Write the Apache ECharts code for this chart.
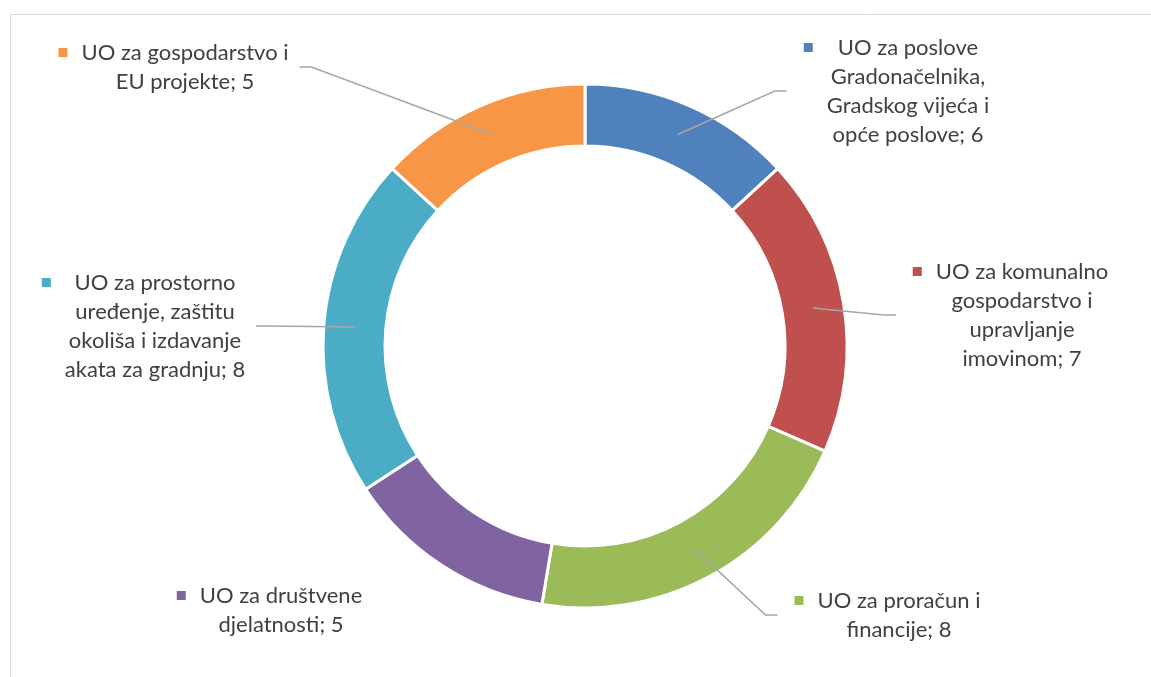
<!DOCTYPE html>
<html>
<head>
<meta charset="utf-8">
<script src="https://cdn.jsdelivr.net/npm/echarts@6/dist/echarts.min.js"></script>
<style>
  html, body { margin: 0; padding: 0; background: #ffffff; }
  #chart { width: 1151px; height: 677px; }
</style>
</head>
<body>
<div id="chart"></div>
<script>
// ---- data ----
const categories = [
  'UO za poslove\nGradonačelnika,\nGradskog vijeća i\nopće poslove',
  'UO za komunalno\ngospodarstvo i\nupravljanje\nimovinom',
  'UO za proračun i\nfinancije',
  'UO za društvene\ndjelatnosti',
  'UO za prostorno\nuređenje, zaštitu\nokoliša i izdavanje\nakata za gradnju',
  'UO za gospodarstvo i\nEU projekte'
];
// slice sizes as measured from the arc angles in the picture
const sliceValues = [5, 7, 8, 5, 8, 5];
// values printed in the data labels of the picture (first label reads 6)
const labelValues = [6, 7, 8, 5, 8, 5];

// ---- style / layout ----
const colors = ['#4F81BD', '#C0504D', '#9BBB59', '#8064A2', '#4BACC6', '#F79646'];
const CX = 585, CY = 346, R_IN = 200, R_OUT = 262;
const labelCenters = [[908, 91], [1022, 315], [899, 615], [281, 610], [155, 326], [185, 67]];
const showLeader = [true, true, true, false, true, true];
const FONT = 'Lato';
const FS = 22;
const LH = 29;
const SLOT = 23;

const rich = {
  t: { fontFamily: FONT, fontSize: FS, color: '#404040', align: 'center', lineHeight: LH },
  g: { width: 14, align: 'left', lineHeight: LH },
  e: { width: SLOT, align: 'left', lineHeight: LH },
  r: { width: SLOT, align: 'right', lineHeight: LH }
};
colors.forEach(function (c, i) {
  rich['sq' + i] = { width: 9, height: 9, backgroundColor: c, align: 'left', lineHeight: LH };
});

const pieData = categories.map(function (name, i) {
  return { name: name, value: sliceValues[i], labelLine: { show: showLeader[i] } };
});

const chart = echarts.init(document.getElementById('chart'), null, { renderer: 'canvas' });

chart.setOption({
  animation: false,
  backgroundColor: '#ffffff',
  graphic: [{
    type: 'rect',
    left: 8, top: 12, z: -10, silent: true,
    shape: { width: 1400, height: 900 },
    style: { fill: 'none', stroke: '#D9D9D9', lineWidth: 1 }
  }],
  series: [{
    // the ring itself
    type: 'pie',
    z: 2,
    center: [CX, CY],
    radius: [R_IN, R_OUT],
    startAngle: 90,
    clockwise: true,
    color: colors,
    itemStyle: { borderColor: '#ffffff', borderWidth: 3 },
    label: { show: false },
    labelLine: { show: false },
    data: pieData
  }, {
    // data labels and leader lines, drawn above the ring
    type: 'pie',
    z: 5,
    silent: true,
    center: [CX, CY],
    radius: [R_IN, R_OUT],
    startAngle: 90,
    clockwise: true,
    avoidLabelOverlap: false,
    itemStyle: { color: 'rgba(0,0,0,0)', borderWidth: 0 },
    label: {
      show: true,
      position: 'outside',
      lineHeight: LH,
      fontFamily: FONT,
      fontSize: FS,
      color: '#404040',
      formatter: function (p) {
        const lines = (p.name + '; ' + labelValues[p.dataIndex]).split('\n');
        return lines.map(function (ln, i) {
          return (i === 0 ? '{sq' + p.dataIndex + '| }{g| }' : '{e| }') + '{t|' + ln + '}{r| }';
        }).join('\n');
      },
      rich: rich
    },
    labelLine: {
      show: true, length: 5, length2: 5,
      lineStyle: { color: '#A6A6A6', width: 1.5 }
    },
    labelLayout: function (p) {
      const i = p.dataIndex;
      const pos = labelCenters[i];
      const w = p.labelRect.width;
      const out = { x: pos[0], y: pos[1], align: 'center', verticalAlign: 'middle' };
      const pts = p.labelLinePoints;
      if (pts && showLeader[i]) {
        const dx = pts[0][0] - CX, dy = pts[0][1] - CY;
        const d = Math.sqrt(dx * dx + dy * dy) || 1;
        const rm = (R_IN + R_OUT) / 2;
        const start = [CX + dx / d * rm, CY + dy / d * rm];
        const isRight = pos[0] > CX;
        let end, elbow;
        if (isRight) {
          end = [pos[0] - w / 2 - 17, pos[1]];
          elbow = [end[0] - 12, end[1]];
        } else {
          end = [pos[0] + w / 2 - SLOT + 11, pos[1]];
          elbow = [end[0] + 12, end[1]];
        }
        out.labelLinePoints = [start, elbow, end];
      }
      return out;
    },
    data: pieData
  }]
});
</script>
</body>
</html>
